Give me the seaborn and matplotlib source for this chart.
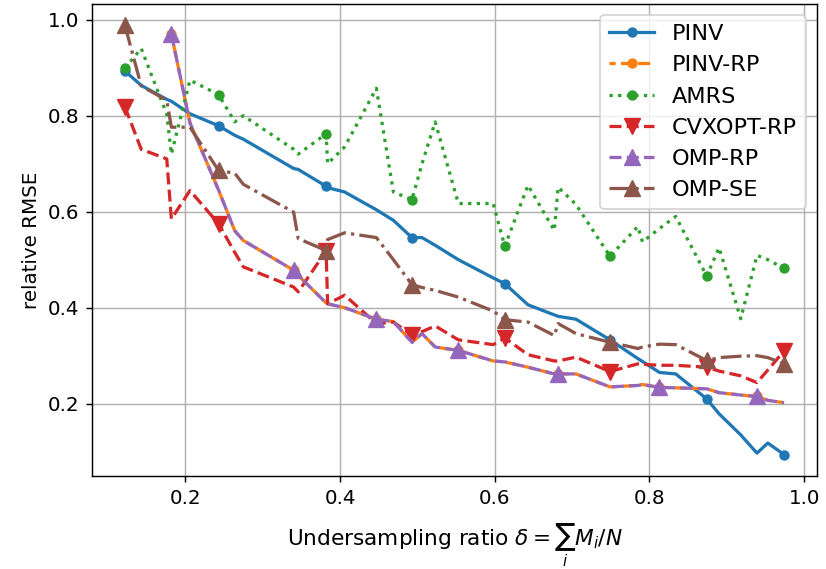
import matplotlib
matplotlib.use('Agg')
import matplotlib.pyplot as plt
import seaborn as sns

# undersampling ratios (shared grid)
ratio = [0.122, 0.143, 0.176, 0.182, 0.206, 0.243, 0.264, 0.275, 0.340, 0.346,
         0.382, 0.384, 0.406, 0.447, 0.469, 0.493, 0.506, 0.523, 0.553, 0.598,
         0.613, 0.643, 0.677, 0.682, 0.705, 0.749, 0.785, 0.791, 0.813, 0.834,
         0.874, 0.890, 0.918, 0.939, 0.953, 0.974]

pinv = [0.893, 0.863, 0.834, 0.830, 0.804, 0.779, 0.759, 0.751, 0.690, 0.688,
        0.653, 0.650, 0.641, 0.604, 0.582, 0.546, 0.546, 0.530, 0.500, 0.462,
        0.450, 0.406, 0.385, 0.382, 0.376, 0.333, 0.294, 0.288, 0.265, 0.262,
        0.210, 0.179, 0.135, 0.097, 0.118, 0.094]

amrs = [0.899, 0.940, 0.803, 0.720, 0.874, 0.844, 0.787, 0.800, 0.730, 0.720,
        0.762, 0.700, 0.735, 0.857, 0.641, 0.625, 0.700, 0.787, 0.617, 0.617,
        0.528, 0.655, 0.561, 0.651, 0.615, 0.507, 0.569, 0.537, 0.565, 0.590,
        0.466, 0.525, 0.377, 0.509, 0.500, 0.482]

cvxopt_rp = [0.818, 0.730, 0.710, 0.585, 0.644, 0.575, 0.515, 0.485, 0.443, 0.433,
             0.518, 0.408, 0.426, 0.367, 0.370, 0.343, 0.350, 0.362, 0.333, 0.323,
             0.337, 0.302, 0.289, 0.289, 0.297, 0.267, 0.283, 0.282, 0.280, 0.280,
             0.276, 0.268, 0.258, 0.244, 0.270, 0.310]

omp_se = [0.988, 0.862, 0.832, 0.776, 0.776, 0.686, 0.680, 0.657, 0.599, 0.544,
          0.519, 0.542, 0.556, 0.546, 0.500, 0.448, 0.442, 0.436, 0.422, 0.393,
          0.375, 0.370, 0.342, 0.367, 0.346, 0.328, 0.315, 0.318, 0.324, 0.323,
          0.290, 0.296, 0.299, 0.300, 0.296, 0.283]

# RP methods start at the 4th ratio
ratio_rp = ratio[3:]
omp_rp = [0.970, 0.785, 0.645, 0.560, 0.540, 0.478, 0.467, 0.410, 0.408, 0.400,
          0.376, 0.371, 0.328, 0.346, 0.318, 0.311, 0.289, 0.287, 0.276, 0.262,
          0.262, 0.262, 0.235, 0.238, 0.240, 0.234, 0.233, 0.231, 0.223, 0.218,
          0.215, 0.207, 0.202]
pinv_rp = list(omp_rp)

fig, ax = plt.subplots(figsize=(826 / 130, 569 / 130), dpi=130)
fig.subplots_adjust(left=0.1114, right=0.9891, bottom=0.1634, top=0.993)

kw = dict(ax=ax, sort=False, errorbar=None, lw=1.8, markevery=5)
sns.lineplot(x=ratio, y=pinv, color='C0', marker='o', ms=5, mec='C0',
             linestyle='-', label='PINV', **kw)
sns.lineplot(x=ratio_rp, y=pinv_rp, color='C1', marker='o', ms=5, mec='C1',
             linestyle=(1.8, (3.7, 1.6)), label='PINV-RP', **kw)
sns.lineplot(x=ratio, y=amrs, color='C2', marker='o', ms=5, mec='C2',
             linestyle=':', label='AMRS', **kw)
sns.lineplot(x=ratio, y=cvxopt_rp, color='C3', marker='v', ms=9, mec='C3',
             linestyle='--', label='CVXOPT-RP', **kw)
sns.lineplot(x=ratio_rp, y=omp_rp, color='C4', marker='^', ms=9, mec='C4',
             linestyle='--', label='OMP-RP', **kw)
sns.lineplot(x=ratio, y=omp_se, color='C5', marker='^', ms=9, mec='C5',
             linestyle='-.', label='OMP-SE', **kw)

ax.grid(True, color='#b0b0b0', lw=0.8)
ax.set_xlabel(r'Undersampling ratio $\delta = \sum_i M_i / N$', fontsize=12,
              labelpad=8)
ax.set_ylabel('relative RMSE', fontsize=11)
ax.tick_params(labelsize=11)
ax.legend(loc='upper right', fontsize=12.4)

fig.savefig('out.png', dpi=130)
